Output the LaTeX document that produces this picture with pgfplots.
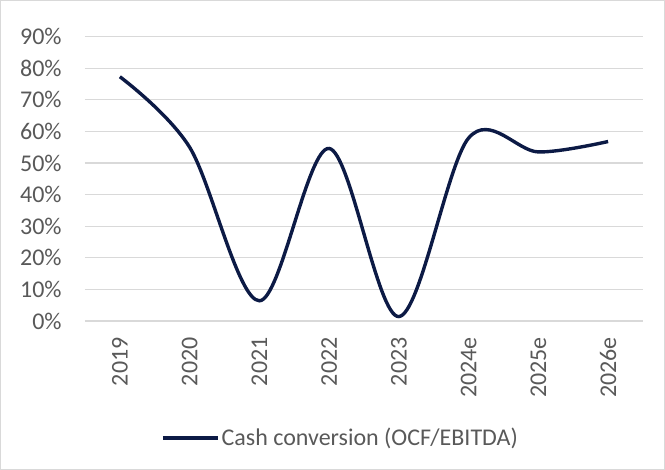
\documentclass[border=0pt]{standalone}
\usepackage{pgfplots}
\pgfplotsset{compat=1.18}
\usepackage{fontspec}
\setmainfont{Carlito}
\definecolor{navy}{RGB}{12,26,69}
\definecolor{txtgray}{RGB}{89,89,89}
\definecolor{gridgray}{RGB}{217,217,217}

\begin{document}
\begin{tikzpicture}
\fontsize{12bp}{14bp}\selectfont
% frame of the chart area (1px = 0.5bp)
\useasboundingbox (-42.5bp,-74.5bp) rectangle (290bp,160.5bp);
\draw[gridgray, line width=0.6bp] (-42.2bp,-74.2bp) rectangle (289.7bp,160.2bp);
\begin{axis}[
    at={(0,0)}, anchor=south west,
    scale only axis,
    width=279bp, height=142.2bp,
    xmin=-0.5, xmax=7.5,
    ymin=0, ymax=90,
    xtick=data,
    xticklabels={2019,2020,2021,2022,2023,2024e,2025e,2026e},
    ytick={0,10,...,90},
    yticklabel={\pgfmathprintnumber{\tick}\%},
    /pgf/number format/assume math mode=true,
    axis line style={draw=none},
    major tick style={draw=none},
    ymajorgrids,
    grid style={gridgray, line width=0.6bp},
    tick label style={font=\fontsize{12bp}{14bp}\selectfont, text=txtgray, inner sep=0pt},
    yticklabel shift=11.5bp,
    xticklabel style={rotate=90, anchor=east},
    xticklabel shift=8bp,
    clip=false,
    legend style={at={(0.458,-0.412)}, anchor=center, draw=none, fill=none,
        font=\fontsize{12bp}{14bp}\selectfont, text=txtgray,
        inner sep=0pt, nodes={inner sep=1bp}},
    legend image code/.code={\draw[#1, line width=1.7bp] (0bp,0bp) -- (27.5bp,0bp);},
  ]
\addplot[navy, line width=1.7bp, smooth, tension=0.55, mark=none]
  coordinates {(0,77.3) (1,55.0) (2,6.4) (3,54.6) (4,1.4) (5,57.9) (6,53.5) (7,56.8)};
\legend{Cash conversion (OCF/EBITDA)}
\end{axis}
\end{tikzpicture}
\end{document}
